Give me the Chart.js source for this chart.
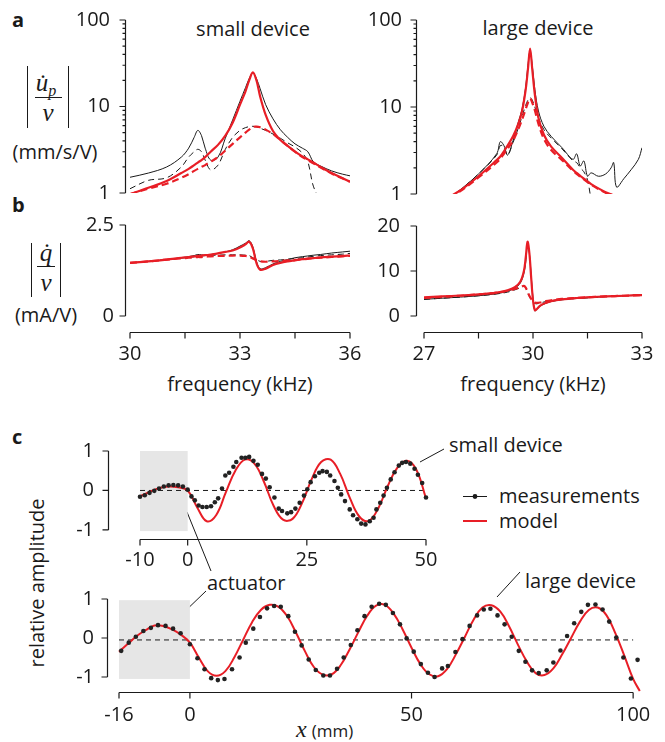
<!DOCTYPE html>
<html>
<head>
<meta charset="utf-8">
<script src="https://cdn.jsdelivr.net/npm/chart.js@4.4.0/dist/chart.umd.min.js"></script>
<style>
body { margin: 0; background: #fff; }
#fig { position: relative; width: 665px; height: 742px; font-family: 'Open Sans', sans-serif; color: #1a1a1a; overflow: hidden; }
canvas { position: absolute; }
.t { position: absolute; white-space: nowrap; font-size: 20px; line-height: 1; }
.c { transform: translate(-50%, -50%); }
.l { transform: translate(0, -50%); }
.m { font-family: 'Liberation Serif', serif; font-style: italic; }
.bar { position: absolute; width: 1.3px; background: #1a1a1a; }
.rule { position: absolute; height: 1.2px; background: #1a1a1a; }
svg { position: absolute; left: 0; top: 0; }
</style>
</head>
<body>
<div id="fig">
  <div class="t" style="left:12px;top:10px;font-weight:bold;">a</div>
  <div class="t" style="left:12px;top:195px;font-weight:bold;">b</div>
  <div class="t" style="left:12px;top:427px;font-weight:bold;">c</div>

  <div class="t c" style="left:253px;top:29px;">small device</div>
  <div class="t c" style="left:538px;top:28px;">large device</div>

  <div class="bar" style="left:27px;top:66px;height:62px;"></div>
  <div class="bar" style="left:68px;top:66px;height:62px;"></div>
  <div class="t c m" style="left:46px;top:84px;font-size:25px;">u&#775;<span style="font-size:16px;vertical-align:-5px;">p</span></div>
  <div class="rule" style="left:35px;top:97px;width:27px;"></div>
  <div class="t c m" style="left:48px;top:112px;font-size:25px;">v</div>
  <div class="t c" style="left:55px;top:152px;">(mm/s/V)</div>

  <div class="bar" style="left:31px;top:243px;height:54px;"></div>
  <div class="bar" style="left:60px;top:243px;height:54px;"></div>
  <div class="t c m" style="left:46px;top:252px;font-size:25px;">q&#775;</div>
  <div class="rule" style="left:37px;top:266px;width:18px;"></div>
  <div class="t c m" style="left:46px;top:282px;font-size:25px;">v</div>
  <div class="t c" style="left:46px;top:315px;">(mA/V)</div>

  <div class="t c" style="left:240px;top:384px;">frequency (kHz)</div>
  <div class="t c" style="left:533px;top:384px;">frequency (kHz)</div>

  <div class="t c" style="left:37px;top:583px;transform:translate(-50%,-50%) rotate(-90deg);">relative amplitude</div>
  <div class="t l" style="left:449px;top:445px;">small device</div>
  <div class="t l" style="left:499px;top:496px;">measurements</div>
  <div class="t l" style="left:499px;top:521px;">model</div>
  <div class="t l" style="left:207px;top:583px;">actuator</div>
  <div class="t l" style="left:525px;top:581px;">large device</div>
  <div class="t l" style="left:296px;top:729px;"><span class="m" style="font-size:24px;">x</span> <span style="font-size:17px;">(mm)</span></div>

  <svg width="665" height="742">
    <g stroke="#1a1a1a" stroke-width="1">
      <line x1="420" y1="462" x2="444" y2="449"/>
      <line x1="187" y1="512" x2="211" y2="571"/>
      <line x1="206" y1="591" x2="179" y2="617"/>
      <line x1="497" y1="597" x2="520" y2="572"/>
      <line x1="463" y1="496.5" x2="487" y2="496.5"/>
    </g>
    <circle cx="475" cy="496.5" r="2.4" fill="#1a1a1a"/>
    <line x1="463" y1="521" x2="487" y2="521" stroke="rgb(232,30,38)" stroke-width="2"/>
  </svg>
</div>

<script>
const RED = 'rgb(232,30,38)';
const INK = '#1a1a1a';

// ---- a/b: frequency response, small device (kHz) ----
const fSmall = [30, 30.5, 31, 31.4, 31.6, 31.75, 31.85, 31.95, 32.05, 32.2, 32.4, 32.6, 32.8, 33, 33.15, 33.25, 33.35, 33.45, 33.55, 33.7, 33.9, 34.1, 34.3, 34.5, 34.7, 34.85, 35, 35.2, 35.5, 35.8, 36];
const upSmallMeas = [1.52, 1.7, 2.0, 2.6, 3.3, 4.4, 5.3, 4.6, 3.3, 2.4, 2.6, 4.3, 7.0, 11.5, 16.5, 21, 24.5, 21, 16, 10.5, 7.2, 5.4, 4.4, 3.7, 3.3, 3.0, 2.3, 2.05, 1.8, 1.65, 1.58];
const upSmallMeasDash = [1.12, 1.4, 1.5, 2.0, 2.6, 3.0, 3.2, 3.0, 2.4, 1.85, 2.1, 3.2, 4.4, 5.3, 5.7, 5.85, 5.9, 5.8, 5.6, 5.3, 4.8, 4.3, 3.8, 3.4, 2.9, 2.3, 1.2, 0.8, null, null, null];
const upSmallModel = [0.97, 1.15, 1.38, 1.7, 1.9, 2.1, 2.25, 2.4, 2.6, 3.0, 3.6, 4.6, 6.5, 10.5, 15, 20, 24.8, 20, 13, 8, 5.2, 4.1, 3.5, 3.0, 2.65, 2.45, 2.25, 2.0, 1.7, 1.48, 1.35];
const upSmallModelDash = [0.97, 1.12, 1.28, 1.5, 1.65, 1.8, 1.9, 2.0, 2.1, 2.3, 2.6, 3.1, 3.7, 4.4, 5.0, 5.4, 5.8, 5.85, 5.75, 5.4, 4.8, 4.1, 3.5, 3.0, 2.6, 2.4, 2.2, 1.97, 1.68, 1.47, 1.35];
const qSmallMeas = [1.46, 1.5, 1.55, 1.6, 1.63, 1.66, 1.69, 1.68, 1.67, 1.69, 1.72, 1.76, 1.82, 1.92, 2.0, 2.07, 1.9, 1.5, 1.3, 1.33, 1.43, 1.5, 1.55, 1.6, 1.63, 1.65, 1.67, 1.69, 1.73, 1.76, 1.78];
const qSmallMeasDash = [1.46, 1.5, 1.55, 1.59, 1.61, 1.63, 1.64, 1.65, 1.66, 1.67, 1.67, 1.68, 1.68, 1.68, 1.67, 1.66, 1.6, 1.55, 1.5, 1.5, 1.53, 1.54, 1.56, 1.58, 1.6, 1.62, 1.64, 1.66, 1.68, 1.7, 1.72];
const qSmallModel = [1.46, 1.5, 1.55, 1.6, 1.62, 1.64, 1.65, 1.66, 1.67, 1.69, 1.72, 1.76, 1.8, 1.88, 1.97, 2.04, 1.86, 1.45, 1.27, 1.3, 1.4, 1.46, 1.5, 1.53, 1.56, 1.58, 1.59, 1.61, 1.63, 1.65, 1.66];
const qSmallModelDash = [1.46, 1.5, 1.55, 1.58, 1.6, 1.61, 1.62, 1.62, 1.63, 1.64, 1.65, 1.65, 1.66, 1.66, 1.65, 1.63, 1.58, 1.53, 1.5, 1.49, 1.5, 1.51, 1.53, 1.54, 1.56, 1.57, 1.59, 1.6, 1.62, 1.64, 1.65];

// ---- a/b: frequency response, large device (kHz) ----
const fLarge = [27.7, 28, 28.5, 29, 29.1, 29.2, 29.3, 29.45, 29.6, 29.7, 29.8, 29.86, 29.92, 29.98, 30.05, 30.15, 30.3, 30.5, 30.8, 31.1, 31.2, 31.3, 31.4, 31.5, 31.6, 31.8, 32.0, 32.15, 32.22, 32.3, 32.5, 32.7, 32.9, 33.0];
const upLargeMeas = [0.9, 1.12, 1.7, 2.9, 4.0, 3.6, 2.8, 4.1, 6.8, 9.5, 17, 30, 44, 30, 16, 9, 6, 4.6, 3.4, 2.5, 2.9, 2.1, 2.4, 1.6, 1.75, 1.6, 1.7, 2.0, 2.3, 1.2, 1.5, 1.9, 2.5, 3.4];
const upLargeMeasDash = [0.9, 1.12, 1.7, 2.8, 3.6, 3.5, 2.8, 3.9, 5.8, 7.8, 10.5, 12, 12.8, 12, 10, 7.5, 5.5, 4.4, 3.3, 2.4, 2.3, 2.0, 1.8, 1.45, 0.85, null, null, null, null, null, null, null, null, null];
const upLargeModel = [0.93, 1.1, 1.6, 2.45, 2.7, 3.1, 3.6, 4.6, 6.5, 9, 16, 27, 47, 27, 14, 7.5, 4.8, 3.5, 2.6, 1.9, 1.75, 1.62, 1.5, 1.4, 1.3, 1.16, 1.05, 0.99, 0.96, 0.93, null, null, null, null];
const upLargeModelDash = [0.92, 1.08, 1.55, 2.3, 2.55, 2.9, 3.3, 4.1, 5.6, 7.2, 9.5, 11.2, 12.5, 11.2, 9.2, 6.4, 4.3, 3.2, 2.45, 1.85, 1.7, 1.58, 1.47, 1.37, 1.28, 1.14, 1.03, 0.97, 0.95, 0.92, null, null, null, null];

const fLargeQ = [27, 27.5, 28, 28.5, 29, 29.3, 29.5, 29.65, 29.75, 29.8, 29.85, 29.9, 29.95, 30, 30.05, 30.1, 30.2, 30.35, 30.5, 30.8, 31.2, 31.6, 32, 32.5, 33];
const qLargeMeas = [3.7, 3.95, 4.2, 4.5, 4.95, 5.5, 6.2, 7.3, 9.5, 12, 15.8, 14, 9, 4, 1.1, 1.4, 2.2, 2.8, 3.2, 3.6, 3.9, 4.1, 4.3, 4.5, 4.7];
const qLargeMeasDash = [3.7, 3.95, 4.2, 4.5, 4.9, 5.3, 5.8, 6.3, 6.6, 6.2, 5.2, 4.3, 3.6, 3.1, 2.8, 2.7, 2.9, 3.2, 3.4, 3.7, 3.9, 4.1, 4.3, 4.5, 4.7];
const qLargeModel = [4.15, 4.35, 4.55, 4.8, 5.2, 5.7, 6.4, 7.6, 10, 13, 16.5, 14, 8.5, 3.5, 1.3, 1.5, 2.3, 2.9, 3.3, 3.7, 4.0, 4.2, 4.35, 4.5, 4.65];
const qLargeModelDash = [4.0, 4.25, 4.5, 4.8, 5.2, 5.6, 6.0, 6.4, 6.7, 6.3, 5.4, 4.5, 3.8, 3.3, 3.0, 2.9, 3.0, 3.3, 3.5, 3.8, 4.0, 4.2, 4.35, 4.5, 4.65];

// ---- c: spatial profiles (mm) ----
const xSmallMeas = [-10, -9, -8, -7, -6, -5, -4, -3, -2, -1, 0, 0.8, 1.5, 2.3, 3.1, 4, 4.9, 5.7, 6.4, 7.2, 7.9, 8.7, 9.6, 10.2, 11.3, 12.1, 12.9, 13.8, 14.7, 15.6, 16.4, 17.2, 18.2, 19.1, 19.8, 20.9, 21.7, 22.6, 23.5, 24.4, 25.1, 25.8, 26.7, 27.6, 28.3, 29.2, 29.9, 30.8, 31.5, 32.2, 33, 34, 34.7, 35.6, 36.4, 37.3, 38.2, 39, 39.6, 40.4, 41.1, 41.8, 42.6, 43.4, 44.3, 45, 45.8, 46.7, 47.6, 48.3, 49.2, 50];
const ampSmallMeas = [-0.16, -0.12, -0.06, -0.01, 0.05, 0.1, 0.13, 0.14, 0.13, 0.1, 0.02, -0.15, -0.25, -0.38, -0.42, -0.42, -0.4, -0.3, -0.2, 0.05, 0.38, 0.45, 0.6, 0.72, 0.83, 0.83, 0.85, 0.75, 0.65, 0.42, 0.3, 0.08, -0.18, -0.46, -0.52, -0.58, -0.55, -0.46, -0.31, -0.13, 0.03, 0.21, 0.36, 0.45, 0.49, 0.47, 0.38, 0.24, 0.07, -0.1, -0.27, -0.48, -0.63, -0.73, -0.84, -0.86, -0.78, -0.69, -0.48, -0.31, -0.13, 0.07, 0.28, 0.46, 0.63, 0.7, 0.72, 0.68, 0.55, 0.4, 0.19, -0.18];
const xSmallModel = [-10, -8, -6, -4, -2, 0, 2, 4, 6, 8, 10, 12, 14, 16, 18, 20, 22, 24, 26, 28, 30, 32, 34, 36, 38, 40, 42, 44, 46, 48, 50];
const ampSmallModel = [-0.15, -0.04, 0.06, 0.1, 0.08, 0.0, -0.43, -0.78, -0.62, -0.05, 0.5, 0.78, 0.68, 0.22, -0.38, -0.74, -0.72, -0.32, 0.28, 0.72, 0.78, 0.42, -0.18, -0.66, -0.77, -0.45, 0.12, 0.58, 0.75, 0.52, -0.2];

const xLargeMeas = [-15.5, -13.8, -12.2, -10.5, -8.8, -7.2, -5.5, -3.8, -2.1, 0, 1.7, 3.3, 4.8, 6.3, 7.8, 9.5, 11.2, 12.6, 14.3, 15.8, 17.4, 19, 20.5, 22.2, 23.7, 25.2, 26.8, 28.4, 30.1, 31.6, 33.2, 34.7, 36.3, 37.8, 39.4, 41, 42.7, 44.2, 45.8, 47.4, 48.9, 50.5, 52.1, 53.7, 55.2, 56.9, 58.2, 59.9, 61.5, 63.1, 64.8, 66.3, 67.8, 69.4, 71, 72.6, 74.2, 75.7, 77.2, 78.7, 80.5, 82, 83.6, 85.1, 86.7, 88.3, 89.8, 91.5, 93.1, 94.6, 96.2, 97.8, 99.5, 101];
const ampLargeMeas = [-0.33, -0.12, 0.03, 0.18, 0.26, 0.33, 0.31, 0.24, 0.12, -0.16, -0.52, -0.8, -1.03, -1.08, -1.05, -0.8, -0.5, -0.12, 0.24, 0.54, 0.76, 0.82, 0.8, 0.56, 0.16, -0.19, -0.55, -0.82, -0.96, -0.96, -0.79, -0.5, -0.18, 0.2, 0.56, 0.8, 0.88, 0.85, 0.64, 0.35, -0.01, -0.35, -0.67, -0.89, -1.0, -0.78, -0.72, -0.36, -0.03, 0.31, 0.58, 0.73, 0.75, 0.58, 0.35, 0.03, -0.33, -0.61, -0.83, -0.9, -0.83, -0.63, -0.32, 0.05, 0.38, 0.67, 0.85, 0.86, 0.73, 0.42, 0.01, -0.5, -1.04, -0.56];
const xLargeModel = [-16, -14, -12, -10, -8, -6, -4, -2, 0, 2, 4, 6, 8, 10, 12, 14, 16, 18, 20, 22, 24, 26, 28, 30, 32, 34, 36, 38, 40, 42, 44, 46, 48, 50, 52, 54, 56, 58, 60, 62, 64, 66, 68, 70, 72, 74, 76, 78, 80, 82, 84, 86, 88, 90, 92, 94, 96, 98, 100, 101.5];
const ampLargeModel = [-0.35, -0.15, 0.05, 0.2, 0.32, 0.31, 0.22, 0.08, -0.12, -0.5, -0.85, -0.97, -0.85, -0.5, -0.05, 0.4, 0.72, 0.85, 0.8, 0.55, 0.12, -0.35, -0.75, -0.94, -0.93, -0.7, -0.3, 0.15, 0.57, 0.83, 0.85, 0.62, 0.22, -0.25, -0.67, -0.93, -0.98, -0.8, -0.42, 0.02, 0.47, 0.78, 0.84, 0.68, 0.3, -0.17, -0.6, -0.9, -0.95, -0.78, -0.42, 0.0, 0.42, 0.72, 0.78, 0.58, 0.12, -0.45, -1.05, -1.36];

const zeroSmall = [[-10, 0], [50, 0]];
const zeroLarge = [[-16, -0.05], [100, -0.05]];
const actuatorSmall = [-10, 0, -1.03, 1.0];
const actuatorLarge = [-16, 0, -1.05, 0.97];

// axis tick sets
const logMajor = [1, 10, 100];
const logMinor = [2, 3, 4, 5, 6, 7, 8, 9, 20, 30, 40, 50, 60, 70, 80, 90];

function pts(xs, ys) {
    return xs.map((x, i) => ({ x: x, y: ys[i] }));
}

function curve(xs, ys, color, width, dash) {
    return { data: pts(xs, ys), borderColor: color, borderWidth: width, borderDash: dash || [], pointRadius: 0, fill: false, tension: 0.35 };
}

const framePlugin = {
    id: 'frame',
    beforeDatasetsDraw(chart, args, o) {
        if (!o.box) return;
        const x = chart.scales.x, y = chart.scales.y, ctx = chart.ctx;
        const x0 = x.getPixelForValue(o.box[0]), x1 = x.getPixelForValue(o.box[1]);
        const y0 = y.getPixelForValue(o.box[2]), y1 = y.getPixelForValue(o.box[3]);
        ctx.save();
        ctx.fillStyle = '#e6e6e6';
        ctx.fillRect(x0, y1, x1 - x0, y0 - y1);
        ctx.restore();
    },
    afterDraw(chart, args, o) {
        const x = chart.scales.x, y = chart.scales.y, ctx = chart.ctx, a = chart.chartArea;
        ctx.save();
        ctx.strokeStyle = INK;
        ctx.lineWidth = 1.2;
        ctx.beginPath();
        if (o.y) {
            const px = Math.round(a.left - o.y.gap) + 0.5;
            const t = o.y.ticks.map(v => y.getPixelForValue(v));
            ctx.moveTo(px, Math.min(...t));
            ctx.lineTo(px, Math.max(...t));
            t.forEach(py => { ctx.moveTo(px, py); ctx.lineTo(px - 6, py); });
            (o.y.minor || []).forEach(v => {
                const py = y.getPixelForValue(v);
                ctx.moveTo(px, py); ctx.lineTo(px - 3, py);
            });
        }
        if (o.x) {
            const py = Math.round(a.bottom) + 0.5;
            const t = o.x.ticks.map(v => x.getPixelForValue(v));
            ctx.moveTo(Math.min(...t), py);
            ctx.lineTo(Math.max(...t), py);
            t.forEach(px => { ctx.moveTo(px, py); ctx.lineTo(px, py + 6); });
        }
        ctx.stroke();
        ctx.restore();
    }
};

Chart.defaults.font.family = "'Open Sans', sans-serif";
Chart.defaults.font.size = 20;
Chart.defaults.color = INK;
Chart.defaults.animation = false;

const fig = document.getElementById('fig');

function xScale(min, max, labels, pad) {
    return {
        type: 'linear', min: min, max: max,
        grid: { display: false, drawTicks: false }, border: { display: false },
        afterBuildTicks: s => { s.ticks = labels.map(v => ({ value: v })); },
        ticks: { padding: pad, autoSkip: false, maxRotation: 0, callback: v => String(v) }
    };
}

function yScale(type, min, max, labels, pad) {
    return {
        type: type, min: min, max: max,
        grid: { display: false, drawTicks: false }, border: { display: false },
        afterBuildTicks: s => { s.ticks = labels.map(v => ({ value: v })); },
        ticks: { padding: pad, autoSkip: false, callback: v => String(v) }
    };
}

// the y tick padding is also reserved above and below the plot by Chart.js,
// so the canvas gets enough margin that the plot area stays where it should
function chartAt(r, xs, ys, datasets, frame) {
    const extra = ys.ticks.padding + 16;
    const MT = Math.max(10, extra), MR = 26, MB = Math.max(r.mb, extra);
    const cv = document.createElement('canvas');
    cv.width = r.r - r.l + r.ml + MR;
    cv.height = r.b - r.t + MT + MB;
    cv.style.left = (r.l - r.ml) + 'px';
    cv.style.top = (r.t - MT) + 'px';
    fig.appendChild(cv);
    const xShown = xs.display !== false;
    if (xShown) xs.afterFit = s => { s.height = MB; };
    ys.afterFit = s => { s.width = r.ml; };
    return new Chart(cv, {
        type: 'line',
        data: { datasets: datasets },
        options: {
            responsive: false,
            devicePixelRatio: 1,
            layout: { padding: { left: 0, top: MT, right: MR, bottom: xShown ? 0 : MB } },
            plugins: { legend: { display: false }, tooltip: { enabled: false }, frame: frame },
            scales: { x: xs, y: ys }
        },
        plugins: [framePlugin]
    });
}

// a, small device
chartAt({ l: 130, r: 350, t: 20, b: 193, ml: 70, mb: 10 },
    Object.assign(xScale(30, 36, [30, 33, 36], 8), { display: false }),
    yScale('logarithmic', 1, 100, logMajor, 20),
    [
        curve(fSmall, upSmallModel, RED, 2.2),
        curve(fSmall, upSmallModelDash, RED, 2.2, [7, 4]),
        curve(fSmall, upSmallMeas, INK, 1),
        curve(fSmall, upSmallMeasDash, INK, 1, [6, 4])
    ],
    { y: { gap: 5, ticks: logMajor, minor: logMinor } });

// a, large device
chartAt({ l: 424, r: 642, t: 20, b: 194, ml: 70, mb: 10 },
    Object.assign(xScale(27, 33, [27, 30, 33], 8), { display: false }),
    yScale('logarithmic', 1, 100, logMajor, 22),
    [
        curve(fLarge, upLargeModel, RED, 2.2),
        curve(fLarge, upLargeModelDash, RED, 2.2, [7, 4]),
        curve(fLarge, upLargeMeas, INK, 1),
        curve(fLarge, upLargeMeasDash, INK, 1, [6, 4])
    ],
    { y: { gap: 8, ticks: logMajor, minor: logMinor } });

// b, small device
chartAt({ l: 130, r: 350, t: 225, b: 332, ml: 70, mb: 40 },
    xScale(30, 36, [30, 33, 36], 10),
    yScale('linear', -0.44, 2.5, [0, 2.5], 16),
    [
        curve(fSmall, qSmallModel, RED, 2.2),
        curve(fSmall, qSmallModelDash, RED, 2.2, [7, 4]),
        curve(fSmall, qSmallMeas, INK, 1),
        curve(fSmall, qSmallMeasDash, INK, 1, [6, 4])
    ],
    { y: { gap: 5, ticks: [0, 2.5] }, x: { ticks: [30, 31.5, 33, 34.5, 36] } });

// b, large device
chartAt({ l: 424, r: 642, t: 226, b: 332, ml: 70, mb: 40 },
    xScale(27, 33, [27, 30, 33], 10),
    yScale('linear', -3.56, 20, [0, 10, 20], 24),
    [
        curve(fLargeQ, qLargeModel, RED, 2.2),
        curve(fLargeQ, qLargeModelDash, RED, 2.2, [7, 4]),
        curve(fLargeQ, qLargeMeas, INK, 1),
        curve(fLargeQ, qLargeMeasDash, INK, 1, [6, 4])
    ],
    { y: { gap: 8, ticks: [0, 10, 20] }, x: { ticks: [27, 28.5, 30, 31.5, 33] } });

function dots(xs, ys) {
    return { data: pts(xs, ys), showLine: false, pointRadius: 2.3, pointBackgroundColor: '#222', pointBorderWidth: 0, clip: false };
}

function zero(seg) {
    return { data: seg.map(p => ({ x: p[0], y: p[1] })), borderColor: INK, borderWidth: 1, borderDash: [5, 4], pointRadius: 0 };
}

// c, small device
chartAt({ l: 140, r: 426, t: 451, b: 539, ml: 80, mb: 40 },
    xScale(-10, 50, [-10, 0, 25, 50], 9),
    yScale('linear', -1.23, 1.0, [-1, 0, 1], 46),
    [
        dots(xSmallMeas, ampSmallMeas),
        Object.assign(curve(xSmallModel, ampSmallModel, RED, 2, []), { tension: 0.4 }),
        zero(zeroSmall)
    ],
    { y: { gap: 32, ticks: [-1, 0, 1] }, x: { ticks: [-10, 0, 25, 50] }, box: actuatorSmall });

// c, large device
chartAt({ l: 119, r: 642, t: 599, b: 692, ml: 60, mb: 40 },
    xScale(-16, 102, [-16, 0, 50, 100], 11),
    yScale('linear', -1.385, 1.0, [-1, 0, 1], 25),
    [
        dots(xLargeMeas, ampLargeMeas),
        Object.assign(curve(xLargeModel, ampLargeModel, RED, 2, []), { tension: 0.4, clip: false }),
        zero(zeroLarge)
    ],
    { y: { gap: 12, ticks: [-1, 0, 1] }, x: { ticks: [-16, 0, 50, 100] }, box: actuatorLarge });
</script>
</body>
</html>
